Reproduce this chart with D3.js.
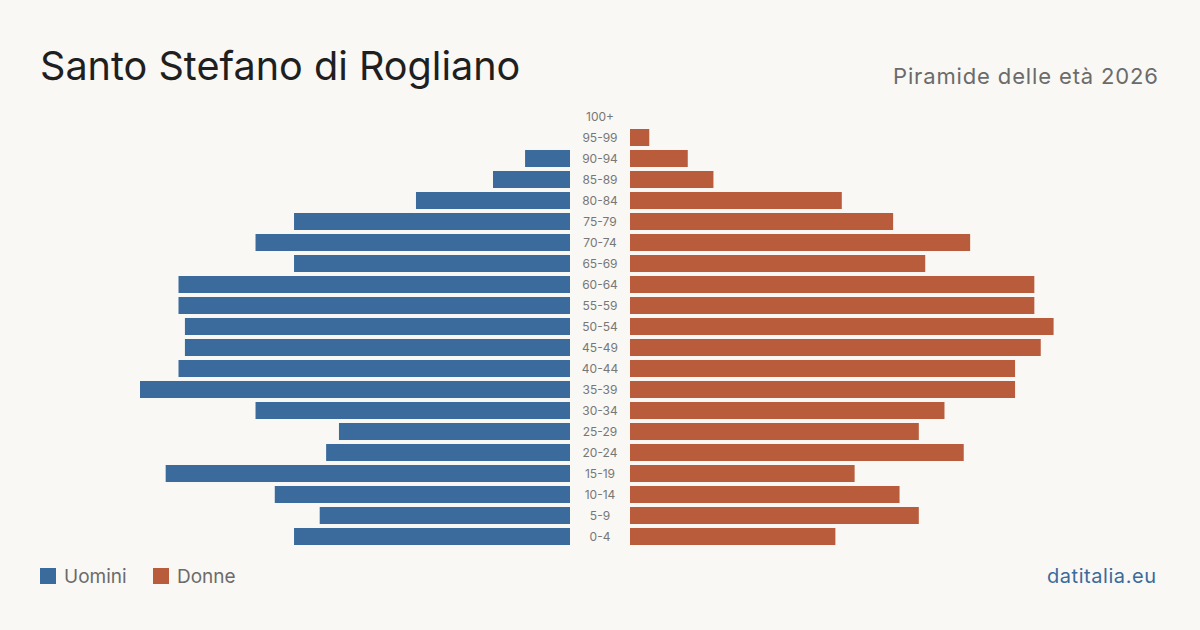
<!DOCTYPE html>
<html><head><meta charset="utf-8">
<script src="https://cdn.jsdelivr.net/npm/d3@7"></script>
<style>
html,body{margin:0;padding:0;background:#f9f8f4;}
svg{display:block;font-family:Inter,"Noto Sans",sans-serif;}
</style></head><body>
<svg id="c" width="1200" height="630"></svg>
<script>
const ageGroups = ["100+","95-99","90-94","85-89","80-84","75-79","70-74","65-69","60-64","55-59","50-54","45-49","40-44","35-39","30-34","25-29","20-24","15-19","10-14","5-9","0-4"];
const maleValues = [0,0,7,12,24,43,49,43,61,61,60,60,61,67,49,36,38,63,46,39,43];
const femaleValues = [0,3,9,13,33,41,53,46,63,63,66,64,60,60,49,45,52,35,42,45,32];
const seriesNames = ["Uomini","Donne"];
const colors = {male:"#3a6b9c", female:"#b85c3c"};

const svg = d3.select("#c");
svg.append("rect").attr("width",1200).attr("height",630).attr("fill","#f9f8f4");

const y = d3.scaleBand().domain(ageGroups).range([106,547]).paddingInner(0.19).paddingOuter(0.095);
const maxV = d3.max([...maleValues,...femaleValues]);
const xL = d3.scaleLinear().domain([0,maxV]).range([570,140]);
const xR = d3.scaleLinear().domain([0,maxV]).range([630,1060]);

svg.append("g").selectAll("rect").data(ageGroups).join("rect")
  .attr("x",(d,i)=>xL(maleValues[i])).attr("y",d=>y(d))
  .attr("width",(d,i)=>xL(0)-xL(maleValues[i])).attr("height",y.bandwidth())
  .attr("fill",colors.male);
svg.append("g").selectAll("rect").data(ageGroups).join("rect")
  .attr("x",xR(0)).attr("y",d=>y(d))
  .attr("width",(d,i)=>xR(femaleValues[i])-xR(0)).attr("height",y.bandwidth())
  .attr("fill",colors.female);

svg.append("g").selectAll("text").data(ageGroups).join("text")
  .attr("x",600).attr("y",d=>y(d)+y.bandwidth()/2).attr("dy","0.35em")
  .attr("text-anchor","middle").attr("font-size",12).attr("fill","#777")
  .text(d=>d);

svg.append("text").attr("x",40).attr("y",80).attr("font-size",39.6).attr("fill","#1f1f1f")
  .text("Santo Stefano di Rogliano");
svg.append("text").attr("x",1158).attr("y",84).attr("text-anchor","end").attr("font-size",22).attr("fill","#6b6b6b")
  .attr("textLength",265).attr("lengthAdjust","spacing")
  .text("Piramide delle età 2026");

const lg = svg.append("g");
[[40,colors.male,seriesNames[0]],[153,colors.female,seriesNames[1]]].forEach(([x,c,t])=>{
  lg.append("rect").attr("x",x).attr("y",568).attr("width",16).attr("height",16).attr("fill",c);
  lg.append("text").attr("x",x+24).attr("y",583).attr("font-size",19).attr("fill","#6b6b6b").text(t);
});
svg.append("text").attr("x",1156).attr("y",583).attr("text-anchor","end").attr("font-size",20).attr("fill","#3a6b9c")
  .attr("textLength",109).attr("lengthAdjust","spacing")
  .text("datitalia.eu");
</script></body></html>
